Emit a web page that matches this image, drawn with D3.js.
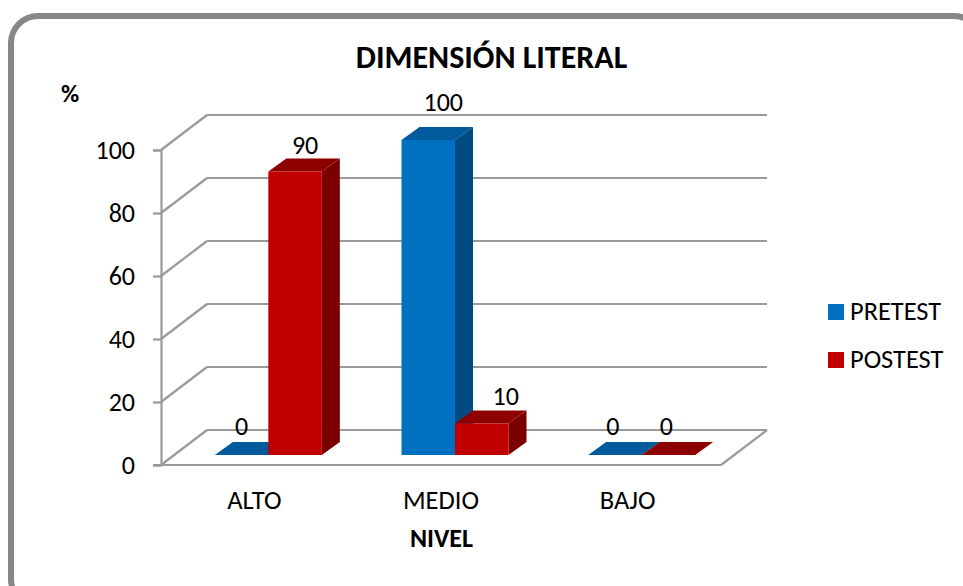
<!DOCTYPE html>
<html><head><meta charset="utf-8">
<script src="https://cdn.jsdelivr.net/npm/d3@7"></script>
<style>html,body{margin:0;padding:0;background:#fff;overflow:hidden}svg{display:block}text{font-family:Carlito,Lato,"Open Sans",sans-serif;fill:#000}</style>
</head><body><svg id="c" width="963" height="586"></svg>
<script>
const categories = ["ALTO","MEDIO","BAJO"];
const seriesNames = ["PRETEST","POSTEST"];
const pretest = [0,100,0];
const postest = [90,10,0];
const yTicks = [0,20,40,60,80,100];
const titleText = "DIMENSIÓN LITERAL", yTitle = "%", xTitle = "NIVEL";
const colors = {PRETEST:{front:"#0070c0",top:"#005a9c",side:"#004c82"},POSTEST:{front:"#c00000",top:"#8e0000",side:"#7a0000"}};
// hand-placed data label nudges, as in the reference
const labelNudge = {PRETEST:[[-9,-20],[6,-29],[-11,-20]],POSTEST:[[1,-18],[15,-19],[-11,-20]]};

const svg = d3.select("#c");
svg.append("rect").attr("x",11).attr("y",16).attr("width",970).attr("height",590).attr("rx",27).attr("ry",27)
  .attr("fill","#fff").attr("stroke","#878787").attr("stroke-width",6);

const G = "#9a9a9a";
const depth = {x:46,y:-35}, barDepth = {x:18,y:-13};
const x = d3.scaleBand().domain(categories).range([161,721]);
const y = d3.scaleLinear().domain([0,100]).range([465,150]);
const barBase = 455;
const yBar = v => barBase - (y(0)-y(v));
const inner = d3.scaleBand().domain(seriesNames).range([-53.5,53.5]);
const barOffset = 14;

// walls
const line = (a,b)=>svg.append("line").attr("x1",a[0]).attr("y1",a[1]).attr("x2",b[0]).attr("y2",b[1]).attr("stroke",G).attr("stroke-width",2.2);
const x0=x.range()[0], x1=x.range()[1];
yTicks.forEach(t=>{
  const yy=y(t);
  line([x0,yy],[x0+depth.x,yy+depth.y]);
  line([x0+depth.x,yy+depth.y],[x1+depth.x,yy+depth.y]);
});
line([x1,y(0)],[x1+depth.x,y(0)+depth.y]);

// axes
const gy = svg.append("g").attr("transform",`translate(${x0},0)`).call(d3.axisLeft(y).tickValues(yTicks).tickSize(8).tickPadding(18));
gy.selectAll("path,line").attr("stroke",G).attr("stroke-width",2.2);
gy.selectAll("text").attr("font-size",26).attr("dy","0.33em");
const gx = svg.append("g").attr("transform",`translate(0,${y(0)})`).call(d3.axisBottom(x).tickSize(0).tickPadding(25));
gx.selectAll("path").attr("stroke",G).attr("stroke-width",2.2).attr("d",`M${x0-8},0H${x1}`);
gx.selectAll("text").attr("font-size",26.5).attr("dy","0.71em");

// bars
const draw = (name,vals)=>{
  const c=colors[name];
  const g=svg.append("g").selectAll("g").data(categories.map((d,i)=>({d,v:vals[i]}))).join("g");
  const L=d=>x(d.d)+x.bandwidth()/2+barOffset+inner(name), W=inner.bandwidth();
  g.append("path").attr("fill",c.top).attr("d",d=>{const l=L(d),t=yBar(d.v);return `M${l},${t}l${barDepth.x},${barDepth.y}h${W}l${-barDepth.x},${-barDepth.y}Z`});
  g.filter(d=>d.v>0).append("path").attr("fill",c.side).attr("d",d=>{const r=L(d)+W,t=yBar(d.v);return `M${r},${t}l${barDepth.x},${barDepth.y}V${barBase+barDepth.y}L${r},${barBase}Z`});
  g.filter(d=>d.v>0).append("rect").attr("fill",c.front).attr("x",L).attr("width",W).attr("y",d=>yBar(d.v)).attr("height",d=>barBase-yBar(d.v));
  return g;
};
draw("PRETEST",pretest);
draw("POSTEST",postest);

// value labels
[["PRETEST",pretest],["POSTEST",postest]].forEach(([name,vals])=>{
  svg.append("g").selectAll("text").data(vals).join("text")
    .attr("x",(v,i)=>x(categories[i])+x.bandwidth()/2+barOffset+inner(name)+inner.bandwidth()/2+barDepth.x/2+labelNudge[name][i][0])
    .attr("y",(v,i)=>yBar(v)+labelNudge[name][i][1])
    .attr("text-anchor","middle").attr("font-size",26).text(v=>v);
});

// titles
svg.append("text").attr("x",491.5).attr("y",68).attr("text-anchor","middle").attr("font-size",32).attr("font-weight",700).text(titleText);
svg.append("text").attr("x",70).attr("y",102).attr("text-anchor","middle").attr("font-size",25).attr("font-weight",700).text(yTitle);
svg.append("text").attr("x",441.5).attr("y",547).attr("text-anchor","middle").attr("font-size",26).attr("font-weight",700).text(xTitle);

// legend
const leg = d3.scalePoint().domain(seriesNames).range([312,360]);
const lg = svg.append("g").selectAll("g").data(seriesNames).join("g").attr("transform",d=>`translate(828,${leg(d)})`);
lg.append("rect").attr("y",-8).attr("width",16).attr("height",16).attr("fill",d=>colors[d].front);
lg.append("text").attr("x",22).attr("y",8).attr("font-size",26.4).text(d=>d);
</script></body></html>
